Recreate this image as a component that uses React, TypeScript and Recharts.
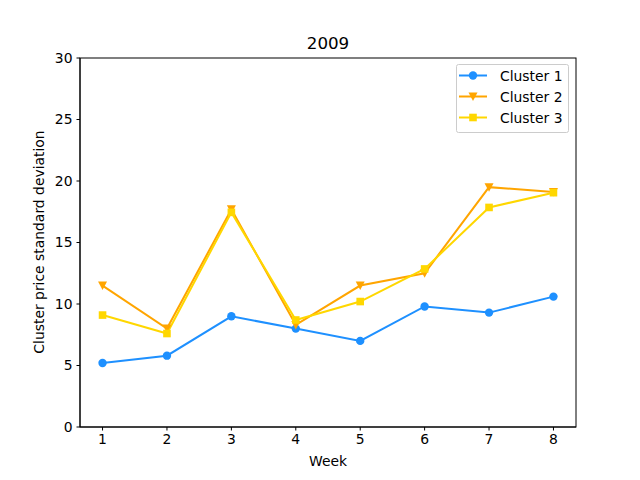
import { Line, LineChart, XAxis, YAxis } from "recharts";

const weeks = [1, 2, 3, 4, 5, 6, 7, 8];
const cluster1 = [5.2, 5.8, 9.0, 8.0, 7.0, 9.8, 9.3, 10.6];
const cluster2 = [11.5, 8.0, 17.7, 8.3, 11.5, 12.5, 19.5, 19.1];
const cluster3 = [9.1, 7.6, 17.45, 8.7, 10.2, 12.85, 17.85, 19.05];
const yTicks = [0, 5, 10, 15, 20, 25, 30];

const seriesList = [
  { key: "c1", name: "Cluster 1", color: "#1E90FF", marker: "circle" },
  { key: "c2", name: "Cluster 2", color: "#FFA500", marker: "triangle" },
  { key: "c3", name: "Cluster 3", color: "#FFD700", marker: "square" },
];

const data = weeks.map((w, i) => ({
  week: w,
  c1: cluster1[i],
  c2: cluster2[i],
  c3: cluster3[i],
}));

const FONT = "DejaVu Sans, sans-serif";

const Marker = ({ kind, x, y, color }: any) => {
  if (kind === "circle") return <circle cx={x} cy={y} r={4.2} fill={color} />;
  if (kind === "triangle")
    return (
      <polygon
        points={`${x - 4.5},${y - 4} ${x + 4.5},${y - 4} ${x},${y + 4.5}`}
        fill={color}
      />
    );
  return <rect x={x - 3.8} y={y - 3.8} width={7.6} height={7.6} fill={color} />;
};

const makeDot = (kind: string, color: string) => (props: any) => {
  const { cx, cy, index } = props;
  if (cx == null || cy == null) return <g key={`d-${kind}-${index}`} />;
  return (
    <g key={`d-${kind}-${index}`}>
      <Marker kind={kind} x={cx} y={cy} color={color} />
    </g>
  );
};

const LegendBox = () => (
  <svg width={114} height={70} style={{ display: "block" }}>
    <rect
      x={0.5}
      y={0.5}
      width={112}
      height={68}
      rx={2}
      fill="#fff"
      fillOpacity={0.8}
      stroke="#ccc"
    />
    {seriesList.map((s, i) => {
      const cy = 11.5 + i * 21;
      return (
        <g key={s.key}>
          <line x1={3} x2={31} y1={cy} y2={cy} stroke={s.color} strokeWidth={2} />
          <Marker kind={s.marker} x={17} y={cy} color={s.color} />
          <text
            x={44}
            y={cy}
            dominantBaseline="central"
            fontSize={13.9}
            fontFamily={FONT}
            fill="#000"
          >
            {s.name}
          </text>
        </g>
      );
    })}
  </svg>
);

export default function App() {
  const tickStyle = { fontSize: 13.9, fontFamily: FONT, fill: "#000" };
  return (
    <div style={{ position: "absolute", left: 0, top: 0, width: 640, height: 480, background: "#fff" }}>
      <LineChart
        width={640}
        height={480}
        data={data}
        margin={{ top: 58, right: 64, bottom: 0, left: 0 }}
      >
        <XAxis
          dataKey="week"
          type="number"
          domain={[0.65, 8.35]}
          ticks={weeks}
          height={53}
          tickSize={3.5}
          tickMargin={4}
          tick={tickStyle}
          stroke="#000"
          tickLine={{ stroke: "#000" }}
          axisLine={{ stroke: "#000" }}
        />
        <YAxis
          domain={[0, 30]}
          ticks={yTicks}
          width={80}
          tickSize={3.5}
          tickMargin={4}
          tick={tickStyle}
          stroke="#000"
          tickLine={{ stroke: "#000" }}
          axisLine={{ stroke: "#000" }}
        />
        {seriesList.map((s) => (
          <Line
            key={s.key}
            dataKey={s.key}
            name={s.name}
            stroke={s.color}
            strokeWidth={2}
            dot={makeDot(s.marker, s.color)}
            activeDot={false}
            isAnimationActive={false}
          />
        ))}
      </LineChart>
      <svg
        width={640}
        height={480}
        style={{ position: "absolute", left: 0, top: 0, pointerEvents: "none" }}
      >
        <rect x={80} y={58} width={496} height={369} fill="none" stroke="#000" strokeWidth={1} />
      </svg>
      <div style={{ position: "absolute", left: 456, top: 64 }}>
        <LegendBox />
      </div>
      <div
        style={{
          position: "absolute",
          left: 0,
          width: 656,
          top: 33,
          textAlign: "center",
          fontFamily: FONT,
          fontSize: 16.7,
          lineHeight: "20px",
        }}
      >
        2009
      </div>
      <div
        style={{
          position: "absolute",
          left: 80,
          width: 496,
          top: 452,
          textAlign: "center",
          fontFamily: FONT,
          fontSize: 13.9,
          lineHeight: "18px",
        }}
      >
        Week
      </div>
      <div
        style={{
          position: "absolute",
          left: 39 - 150,
          top: 242 - 9,
          width: 300,
          textAlign: "center",
          fontFamily: FONT,
          fontSize: 13.9,
          lineHeight: "18px",
          transform: "rotate(-90deg)",
        }}
      >
        Cluster price standard deviation
      </div>
    </div>
  );
}
